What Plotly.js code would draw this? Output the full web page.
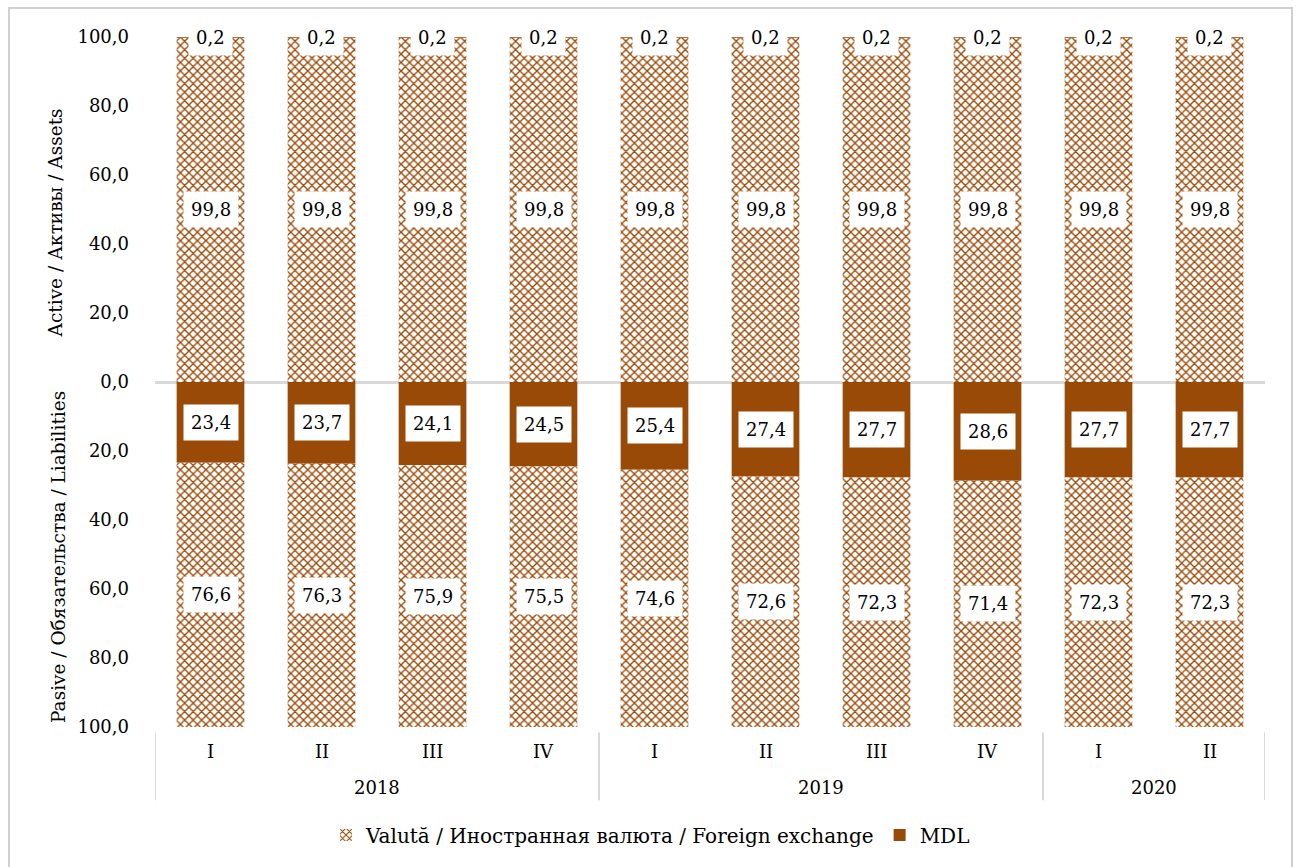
<!DOCTYPE html>
<html>
<head>
<meta charset="utf-8">
<script src="https://cdn.plot.ly/plotly-3.0.1.min.js"></script>
<style>
html,body{margin:0;padding:0;background:#fff;}
#wrap{position:relative;width:1301px;height:867px;overflow:hidden;}
#chart{width:1301px;height:867px;}
#frame{position:absolute;left:8px;top:7px;width:1285px;height:900px;border:2px solid #d0d0d0;pointer-events:none;box-sizing:border-box;}
</style>
</head>
<body>
<div id="wrap"><div id="chart"></div><div id="frame"></div></div>
<script>
const years = ["2018","2018","2018","2018","2019","2019","2019","2019","2020","2020"];
const quarters = ["I","II","III","IV","I","II","III","IV","I","II"];
const assetsFX = [99.8,99.8,99.8,99.8,99.8,99.8,99.8,99.8,99.8,99.8];
const assetsMDL = [0.2,0.2,0.2,0.2,0.2,0.2,0.2,0.2,0.2,0.2];
const liabMDL = [23.4,23.7,24.1,24.5,25.4,27.4,27.7,28.6,27.7,27.7];
const liabFX = [76.6,76.3,75.9,75.5,74.6,72.6,72.3,71.4,72.3,72.3];
const yTickVals = [100,80,60,40,20,0,-20,-40,-60,-80,-100];
const yTickText = ["100,0","80,0","60,0","40,0","20,0","0,0","20,0","40,0","60,0","80,0","100,0"];

const BROWN = "#994A07";
const FONT = '"DejaVu Serif", "Liberation Serif", serif';
const cats = years.map((y,i)=>y+" "+quarters[i]);
const fxPattern = {shape:"x", fgcolor:BROWN, bgcolor:"#ffffff", size:6, solidity:0.4, fillmode:"replace"};
const txtFont = {family:FONT, size:18, color:"#000"};

const traces = [
  {type:"bar", x:cats, y:liabMDL.map(v=>-v), name:"MDL", legendgroup:"mdl", showlegend:false,
   marker:{color:BROWN, line:{width:0}}, hoverinfo:"skip"},
  {type:"bar", x:cats, y:assetsFX, name:"Valută / Иностранная валюта / Foreign exchange", legendgroup:"fx", showlegend:true,
   marker:{color:"#ffffff", pattern:fxPattern, line:{width:0}}, hoverinfo:"skip"},
  {type:"bar", x:cats, y:assetsMDL, name:"MDL", legendgroup:"mdl", showlegend:true,
   marker:{color:BROWN, line:{width:0}}, hoverinfo:"skip"},
  {type:"bar", x:cats, y:liabFX.map(v=>-v), name:"FX", legendgroup:"fx", showlegend:false,
   marker:{color:"#ffffff", pattern:fxPattern, line:{width:0}}, hoverinfo:"skip"}
];

const fmt = v => v.toFixed(1).replace(".", ",");
const annotations = [];
const shapes = [];
const lab = (xi, yv, txt) => ({x:cats[xi], y:yv, xref:"x", yref:"y", text:txt, showarrow:false,
  bgcolor:"#ffffff", borderpad:7, font:txtFont, xanchor:"center", yanchor:"middle"});
for (let i=0;i<cats.length;i++){
  annotations.push(lab(i, assetsFX[i]/2, fmt(assetsFX[i])));
  annotations.push(lab(i, assetsFX[i]+assetsMDL[i]/2, fmt(assetsMDL[i])));
  annotations.push(lab(i, -liabMDL[i]/2, fmt(liabMDL[i])));
  annotations.push(lab(i, -liabMDL[i]-liabFX[i]/2, fmt(liabFX[i])));
  annotations.push({x:cats[i], xref:"x", yref:"paper", y:-0.036, text:quarters[i], showarrow:false,
    font:txtFont, xanchor:"center", yanchor:"middle"});
}
const groups = [];
years.forEach((y,i)=>{ if(!groups.length || groups[groups.length-1].y!==y) groups.push({y:y,s:i,e:i}); else groups[groups.length-1].e=i; });
groups.forEach(g=>{
  annotations.push({x:(g.s+g.e)/2, xref:"x", yref:"paper", y:-0.087, text:g.y, showarrow:false,
    font:txtFont, xanchor:"center", yanchor:"middle"});
  shapes.push({type:"line", xref:"x", yref:"paper", x0:g.s-0.5, x1:g.s-0.5, y0:-0.008, y1:-0.106, line:{color:"#d9d9d9", width:2}});
});
shapes.push({type:"line", xref:"x", yref:"paper", x0:cats.length-0.5, x1:cats.length-0.5, y0:-0.008, y1:-0.106, line:{color:"#d9d9d9", width:2}});

const titleFont = {family:FONT, size:18.5, color:"#000"};
annotations.push({xref:"paper", yref:"y", x:-0.09, y:46, text:"Active / Активы / Assets", textangle:-90, showarrow:false,
  font:titleFont, xanchor:"center", yanchor:"middle"});
annotations.push({xref:"paper", yref:"y", x:-0.087, y:-50.6, text:"Pasive / Обязательства / Liabilities", textangle:-90, showarrow:false,
  font:titleFont, xanchor:"center", yanchor:"middle"});

const layout = {
  width:1301, height:867,
  margin:{l:155, r:36, t:37, b:140, autoexpand:false},
  paper_bgcolor:"#ffffff", plot_bgcolor:"#ffffff",
  barmode:"relative", bargap:0.39,
  font:txtFont,
  showlegend:true,
  legend:{orientation:"h", xref:"container", x:0.5, xanchor:"center", yref:"container", y:0.037, yanchor:"middle",
    font:{family:FONT, size:20, color:"#000"}, traceorder:"normal"},
  xaxis:{type:"category", automargin:false, showgrid:false, zeroline:false, showline:false, ticks:"", showticklabels:false, range:[-0.5, cats.length-0.5]},
  yaxis:{range:[-100,100], automargin:false, tickvals:yTickVals, ticktext:yTickText, showgrid:false, zeroline:true, zerolinecolor:"#d9d9d9", zerolinewidth:3,
    showline:false, ticks:"", ticklabelstandoff:25, tickfont:txtFont},
  annotations:annotations,
  shapes:shapes
};
Plotly.newPlot("chart", traces, layout, {displayModeBar:false, staticPlot:true});
</script>
</body>
</html>
